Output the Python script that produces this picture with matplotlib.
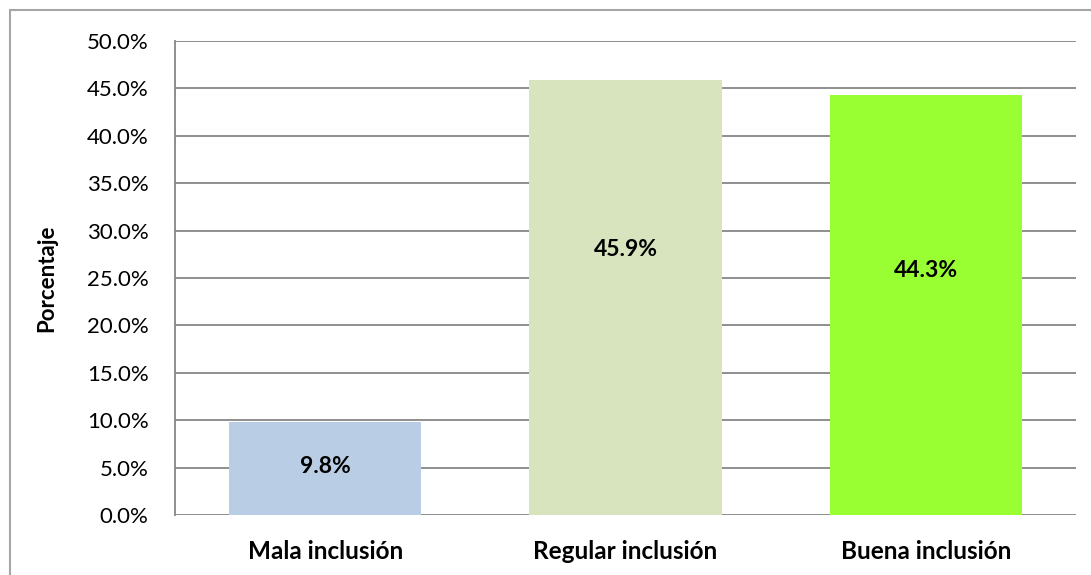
import matplotlib
matplotlib.use("Agg")
import matplotlib.pyplot as plt
from matplotlib.patches import Rectangle
from matplotlib.ticker import FuncFormatter

categories = ["Mala inclusión", "Regular inclusión", "Buena inclusión"]
values = [9.8, 45.9, 44.3]
colors = ["#B9CDE5", "#D7E4BD", "#99FF33"]
# vertical placement of the value labels (data units), as in the original
label_y = [5.1, 28.0, 25.8]

plt.rcParams["font.family"] = ["Lato", "DejaVu Sans"]

fig = plt.figure(figsize=(10.91, 5.75), dpi=100)
ax = fig.add_axes([0.1604, 0.1043, 0.8259, 0.8244])

# outer chart border (runs off the right/bottom edge)
fig.patches.append(Rectangle((10 / 1091, -0.05), 1.1, 1 - 10 / 575 + 0.05,
                             transform=fig.transFigure, fill=False,
                             edgecolor="#A6A6A6", linewidth=1.5))

x = range(len(categories))
ax.bar(x, values, width=0.64, color=colors, zorder=2)
for i, v in enumerate(values):
    ax.text(i, label_y[i], f"{v:.1f}%", ha="center", va="center",
            fontsize=16.5, fontweight="bold", color="#000000", zorder=3)

ax.set_xlim(-0.5, 2.5)
ax.set_ylim(0, 50)
ax.set_yticks(range(0, 51, 5))
ax.yaxis.set_major_formatter(FuncFormatter(lambda v, p: f"{v:.1f}%"))
ax.set_xticks(list(x))
ax.set_xticklabels(categories, fontsize=17.5, fontweight="bold")
ax.tick_params(axis="y", labelsize=16, length=0, pad=19, labelcolor="#000000")
ax.tick_params(axis="x", length=0, pad=18)
ax.grid(axis="y", color="#868686", linewidth=1.3, zorder=1)
for s in ["top", "right", "bottom"]:
    ax.spines[s].set_visible(False)
ax.spines["left"].set_color("#868686")
ax.spines["left"].set_linewidth(1.3)
ax.set_ylabel("Porcentaje", fontsize=16, fontweight="bold", labelpad=21)

fig.savefig("out.png", dpi=100)
